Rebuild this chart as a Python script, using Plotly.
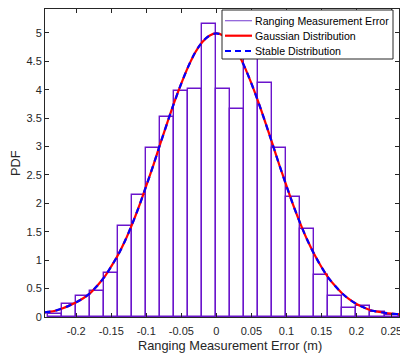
import plotly.graph_objects as go

# Histogram bins (left edges) and heights
bin_left = [-0.24, -0.22, -0.20, -0.18, -0.16, -0.14, -0.12, -0.10, -0.08, -0.06, -0.04, -0.02,
            0.00, 0.02, 0.04, 0.06, 0.08, 0.10, 0.12, 0.14, 0.16, 0.18, 0.20, 0.22, 0.24]
bin_height = [0.06, 0.23, 0.37, 0.46, 0.78, 1.60, 2.15, 2.97, 3.52, 3.98, 4.02, 5.16,
              4.02, 3.66, 4.62, 4.12, 2.97, 2.11, 1.55, 0.74, 0.37, 0.15, 0.19, 0.08, 0.04]
bin_width = 0.02

# Fitted curves
curve_x = [-0.245, -0.24, -0.23, -0.22, -0.21, -0.20, -0.19, -0.18, -0.17, -0.16, -0.15, -0.14,
           -0.13, -0.12, -0.11, -0.10, -0.09, -0.08, -0.07, -0.06, -0.05, -0.04, -0.03,
           -0.02, -0.01, 0.00, 0.01, 0.02, 0.03, 0.04, 0.05, 0.06, 0.07, 0.08, 0.09, 0.10,
           0.11, 0.12, 0.13, 0.14, 0.15, 0.16, 0.17, 0.18, 0.19, 0.20, 0.21, 0.22, 0.23,
           0.24, 0.25, 0.26, 0.265]
gauss_y = [0.08, 0.09, 0.11, 0.15, 0.20, 0.26, 0.33, 0.42, 0.55, 0.70, 0.89, 1.10,
           1.35, 1.64, 1.96, 2.31, 2.67, 3.05, 3.42, 3.78, 4.11, 4.41, 4.66,
           4.84, 4.95, 4.99, 4.95, 4.84, 4.66, 4.41, 4.11, 3.78, 3.42, 3.05, 2.67, 2.31,
           1.96, 1.64, 1.35, 1.10, 0.88, 0.69, 0.54, 0.41, 0.31, 0.23, 0.17, 0.12, 0.095,
           0.075, 0.06, 0.05, 0.045]
stable_y = [0.08, 0.09, 0.11, 0.15, 0.20, 0.26, 0.33, 0.42, 0.55, 0.70, 0.89, 1.10,
            1.35, 1.64, 1.96, 2.31, 2.67, 3.05, 3.42, 3.78, 4.11, 4.41, 4.66,
            4.84, 4.95, 4.99, 4.95, 4.84, 4.66, 4.41, 4.11, 3.78, 3.42, 3.05, 2.67, 2.31,
            1.96, 1.64, 1.35, 1.10, 0.88, 0.69, 0.54, 0.41, 0.31, 0.23, 0.17, 0.12, 0.095,
            0.075, 0.06, 0.05, 0.045]

x_ticks = [-0.2, -0.15, -0.1, -0.05, 0, 0.05, 0.1, 0.15, 0.2, 0.25]
x_tick_labels = ["-0.2", "-0.15", "-0.1", "-0.05", "0", "0.05", "0.1", "0.15", "0.2", "0.25"]
y_ticks = [0, 0.5, 1, 1.5, 2, 2.5, 3, 3.5, 4, 4.5, 5]
y_tick_labels = ["0", "0.5", "1", "1.5", "2", "2.5", "3", "3.5", "4", "4.5", "5"]

legend_names = ["Ranging Measurement Error", "Gaussian Distribution", "Stable Distribution"]
x_title = "Ranging Measurement Error (m)"
y_title = "PDF"

purple = "#6a14cc"
legend_purple = "#8a5ad8"
red = "#ff0000"
blue = "#0000ff"
font_family = "Arial, Liberation Sans, Helvetica, sans-serif"
axis_color = "#262626"

W, H = 400, 354
L, R, T, B = 45, 1, 9, 37
pw, ph = W - L - R, H - T - B


def px_x(px):
    return (px - L) / pw


def px_y(py):
    return (H - B - py) / ph


bin_center = [b + bin_width / 2 for b in bin_left]

fig = go.Figure()
fig.add_trace(go.Bar(
    x=bin_center, y=bin_height, width=bin_width,
    marker=dict(color="rgba(0,0,0,0)", line=dict(color=purple, width=1.4)),
    showlegend=False, name=legend_names[0],
))
fig.add_trace(go.Scatter(
    x=curve_x, y=gauss_y, mode="lines", name=legend_names[1], showlegend=False,
    line=dict(color=red, width=2.2, shape="spline"),
))
fig.add_trace(go.Scatter(
    x=curve_x, y=stable_y, mode="lines", name=legend_names[2], showlegend=False,
    line=dict(color=blue, width=2.2, dash="6px,5px", shape="spline"),
))

# Manual legend box (MATLAB style)
shapes = [dict(type="rect", xref="paper", yref="paper",
               x0=px_x(222), x1=px_x(393), y0=px_y(59), y1=px_y(10),
               fillcolor="white", line=dict(color=axis_color, width=1), layer="above")]
rows_y = [20.7, 35.7, 51.0]
styles = [dict(color=legend_purple, width=1.2),
          dict(color=red, width=2.2),
          dict(color=blue, width=2.2, dash="6px,4px")]
annotations = []
for ry, st, name in zip(rows_y, styles, legend_names):
    shapes.append(dict(type="line", xref="paper", yref="paper",
                       x0=px_x(225), x1=px_x(252), y0=px_y(ry), y1=px_y(ry),
                       line=st, layer="above"))
    annotations.append(dict(xref="paper", yref="paper", x=px_x(252.5), y=px_y(ry),
                            xanchor="left", yanchor="middle", showarrow=False,
                            text=name, font=dict(size=10.6, color="#000000")))

annotations.append(dict(xref="paper", yref="paper", x=px_x(229.5), y=px_y(345),
                        xanchor="center", yanchor="middle", showarrow=False,
                        text=x_title, font=dict(size=12.8, color=axis_color)))
annotations.append(dict(xref="paper", yref="paper", x=px_x(15), y=px_y(163),
                        xanchor="center", yanchor="middle", showarrow=False, textangle=-90,
                        text=y_title, font=dict(size=12.8, color=axis_color)))

fig.update_layout(
    width=W, height=H,
    margin=dict(l=L, r=R, t=T, b=B, autoexpand=False),
    paper_bgcolor="white", plot_bgcolor="white",
    font=dict(family=font_family, size=11, color=axis_color),
    bargap=0,
    showlegend=False,
    shapes=shapes,
    annotations=annotations,
    xaxis=dict(
        range=[-0.2446, 0.2607],
        tickvals=x_ticks, ticktext=x_tick_labels,
        ticks="inside", ticklen=4, tickcolor=axis_color,
        showline=True, linecolor=axis_color, linewidth=1, mirror="ticks",
        showgrid=False, zeroline=False, automargin=False,
        ticklabeloverflow="allow", ticklabelstandoff=4,
    ),
    yaxis=dict(
        range=[0, 5.42],
        tickvals=y_ticks, ticktext=y_tick_labels,
        ticks="inside", ticklen=4, tickcolor=axis_color,
        showline=True, linecolor=axis_color, linewidth=1, mirror="ticks",
        showgrid=False, zeroline=False, automargin=False,
        ticklabeloverflow="allow",
    ),
)

fig.write_html("out.html", config={"displayModeBar": False},
               post_script="document.body.style.margin='0';")
